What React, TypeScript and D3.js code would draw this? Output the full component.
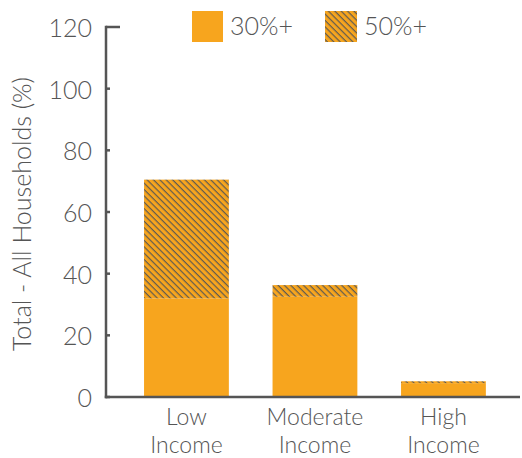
import React from "react";
import * as d3 from "d3";

const categories = ["Low Income", "Moderate Income", "High Income"];
const burden30 = [32, 32.5, 4.5];
const burden50 = [38.5, 3.8, 0.6];
const yTicks = [0, 20, 40, 60, 80, 100, 120];
const legendLabels = ["30%+", "50%+"];

const W = 522;
const H = 458;
const ORANGE = "#F7A51E";
const GREY = "#555555";
const FONT = "Lato, 'Open Sans', sans-serif";

export default function App() {
  const y = d3.scaleLinear().domain([0, 120]).range([397, 27]);
  const x = d3
    .scaleBand<string>()
    .domain(categories)
    .range([122.2, 507.7])
    .paddingInner(0.34)
    .paddingOuter(0.17);
  const axisX = 106;

  return (
    <svg
      width={W}
      height={H}
      style={{ position: "absolute", left: 0, top: 0, background: "#fff" }}
    >
      <defs>
        <pattern
          id="hatch"
          patternUnits="userSpaceOnUse"
          width={4.5}
          height={4.5}
          patternTransform="rotate(45)"
        >
          <rect width={4.5} height={4.5} fill={ORANGE} />
          <line x1={0} y1={0} x2={4.5} y2={0} stroke="#5e5a52" strokeWidth={2.4} />
        </pattern>
      </defs>

      {categories.map((c, i) => {
        const x0 = x(c)!;
        const bw = x.bandwidth();
        const v1 = burden30[i];
        const v2 = burden30[i] + burden50[i];
        return (
          <g key={c}>
            <rect x={x0} y={y(v1)} width={bw} height={y(0) - y(v1)} fill={ORANGE} />
            <rect x={x0} y={y(v2)} width={bw} height={y(v1) - y(v2)} fill="url(#hatch)" />
          </g>
        );
      })}

      {/* axes */}
      <line x1={axisX} y1={y(120) - 1.25} x2={axisX} y2={y(0) + 1.25} stroke={GREY} strokeWidth={2.5} />
      <line x1={axisX - 1.25} y1={y(0)} x2={520} y2={y(0)} stroke={GREY} strokeWidth={2.5} />
      {yTicks.map((t) => (
        <g key={t}>
          <line
            x1={axisX}
            x2={t === 120 ? 120 : 110}
            y1={y(t)}
            y2={y(t)}
            stroke={GREY}
            strokeWidth={2.5}
          />
          <text
            x={92}
            y={y(t)}
            textAnchor="end"
            dominantBaseline="central"
            fontFamily={FONT}
            fontWeight={300}
            fontSize={25}
            fill={GREY}
          >
            {t}
          </text>
        </g>
      ))}

      {categories.map((c) => {
        const [a, b] = c.split(" ");
        const cx = x(c)! + x.bandwidth() / 2;
        return (
          <g key={c}>
            <text
              x={cx}
              y={425}
              textAnchor="middle"
              fontFamily={FONT}
              fontWeight={300}
              fontSize={23}
              fill={GREY}
            >
              {a}
            </text>
            <text
              x={cx}
              y={453}
              textAnchor="middle"
              fontFamily={FONT}
              fontWeight={300}
              fontSize={23}
              fill={GREY}
            >
              {b}
            </text>
          </g>
        );
      })}

      <text
        transform={`translate(31, 214) rotate(-90)`}
        textAnchor="middle"
        fontFamily={FONT}
        fontWeight={300}
        fontSize={25}
        fill={GREY}
      >
        Total - All Households (%)
      </text>

      {/* legend */}
      <rect x={192} y={11} width={31} height={31} fill={ORANGE} />
      <text x={230} y={35} fontFamily={FONT} fontWeight={300} fontSize={25} fill={GREY}>
        {legendLabels[0]}
      </text>
      <rect x={325} y={11} width={32} height={31} fill="url(#hatch)" />
      <text x={364} y={35} fontFamily={FONT} fontWeight={300} fontSize={25} fill={GREY}>
        {legendLabels[1]}
      </text>
    </svg>
  );
}
